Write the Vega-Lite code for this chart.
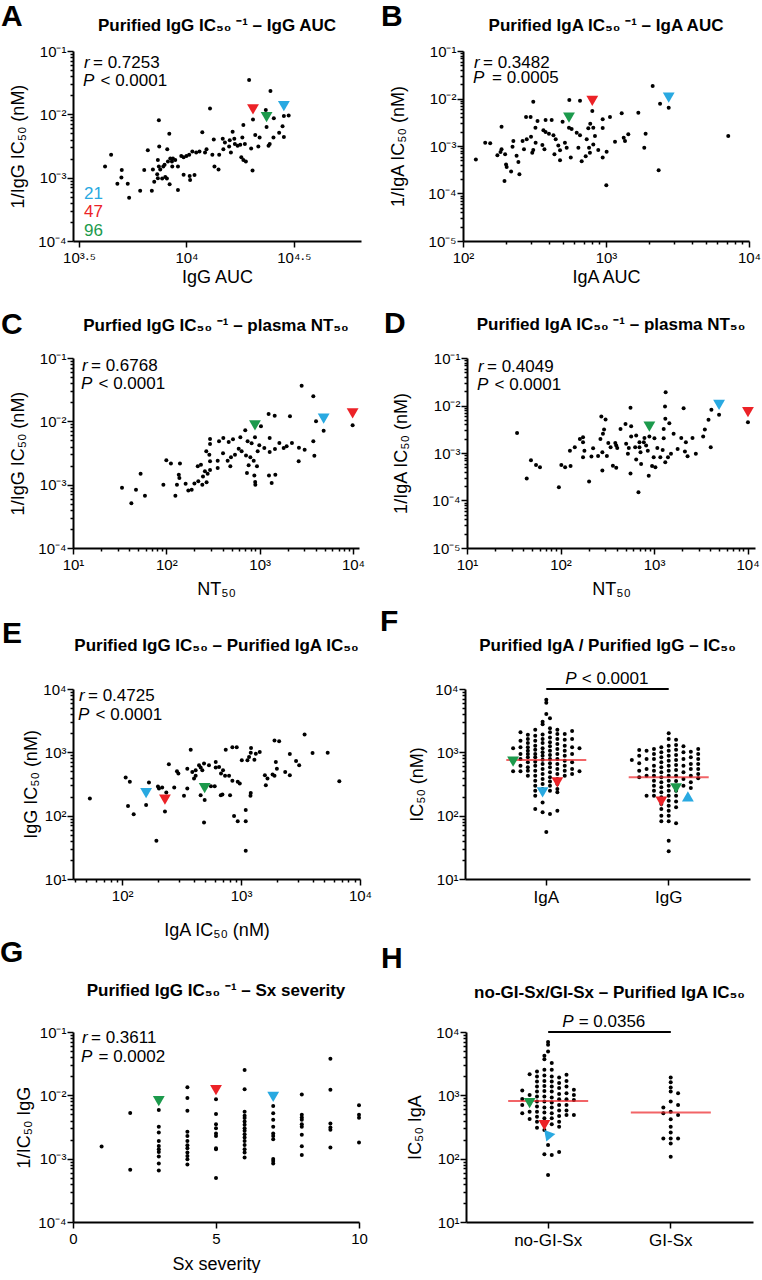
{
"$schema": "https://vega.github.io/schema/vega-lite/v6.json",
"background": "white",
"padding": {"left": 0, "top": 1, "right": 2, "bottom": 0},
"config": {
  "font": "Liberation Sans",
  "view": {"stroke": null},
  "axis": {"domainColor": "#000", "domainWidth": 2, "tickColor": "#000", "tickWidth": 1.5, "labelColor": "#000", "titleColor": "#000", "labelFontSize": 15, "titleFontSize": 18, "titleFontWeight": "normal", "grid": false, "labelOverlap": false, "labelFlush": false, "labelPadding": 3, "tickSize": 6},
  "axisY": {"titlePadding": 14, "labelPadding": 1, "minExtent": 32, "maxExtent": 32},
  "axisX": {"titlePadding": 3},
  "title": {"fontSize": 17, "fontWeight": "bold", "color": "#000"}
},
"datasets": {
  "a": [{"x":19570,"y":0.0348},{"x":24600,"y":0.0234},{"x":12870,"y":0.0124},{"x":23400,"y":0.0117},{"x":7440,"y":0.00804},{"x":20400,"y":0.0083},{"x":28400,"y":0.0094},{"x":25500,"y":0.00865},{"x":29900,"y":0.0096},{"x":23600,"y":0.0063},{"x":18400,"y":0.0068},{"x":28000,"y":0.0065},{"x":11850,"y":0.0052},{"x":8320,"y":0.00495},{"x":16400,"y":0.0053},{"x":20900,"y":0.0047},{"x":27000,"y":0.0051},{"x":21900,"y":0.0043},{"x":18200,"y":0.0043},{"x":25400,"y":0.0043},{"x":28400,"y":0.0044},{"x":7470,"y":0.0031},{"x":8140,"y":0.0028},{"x":6610,"y":0.0027},{"x":14750,"y":0.0041},{"x":13400,"y":0.004},{"x":15100,"y":0.0036},{"x":15900,"y":0.0039},{"x":16700,"y":0.0041},{"x":16800,"y":0.0034},{"x":17300,"y":0.0032},{"x":15800,"y":0.0031},{"x":17800,"y":0.0033},{"x":18700,"y":0.0034},{"x":20000,"y":0.0029},{"x":21600,"y":0.0031},{"x":24100,"y":0.0032},{"x":24400,"y":0.0034},{"x":14850,"y":0.0028},{"x":16100,"y":0.0025},{"x":13200,"y":0.0023},{"x":14200,"y":0.0023},{"x":10650,"y":0.0026},{"x":11100,"y":0.0025},{"x":11500,"y":0.0026},{"x":12200,"y":0.0025},{"x":12400,"y":0.0028},{"x":10300,"y":0.0023},{"x":10000,"y":0.0022},{"x":9460,"y":0.0022},{"x":9700,"y":0.0021},{"x":4460,"y":0.0023},{"x":7360,"y":0.0019},{"x":8410,"y":0.002},{"x":8650,"y":0.002},{"x":8870,"y":0.0019},{"x":8560,"y":0.0018},{"x":8200,"y":0.0018},{"x":7910,"y":0.0016},{"x":7800,"y":0.0015},{"x":7440,"y":0.0015},{"x":8590,"y":0.0015},{"x":9130,"y":0.0015},{"x":4180,"y":0.0015},{"x":6980,"y":0.00135},{"x":7550,"y":0.00135},{"x":13500,"y":0.0015},{"x":14100,"y":0.00134},{"x":18400,"y":0.0019},{"x":18900,"y":0.0018},{"x":18000,"y":0.0021},{"x":20300,"y":0.0013},{"x":10900,"y":0.0011},{"x":10350,"y":0.00106},{"x":9700,"y":0.00111},{"x":10400,"y":0.00092},{"x":6360,"y":0.00132},{"x":7310,"y":0.00113},{"x":7360,"y":0.00098},{"x":7710,"y":0.00097},{"x":8110,"y":0.00097},{"x":7970,"y":0.00102},{"x":5000,"y":0.00132},{"x":4980,"y":0.00101},{"x":8350,"y":0.00079},{"x":9130,"y":0.00064},{"x":6900,"y":0.00062},{"x":7080,"y":0.00086},{"x":6090,"y":0.00062},{"x":5330,"y":0.0008},{"x":4770,"y":0.0008},{"x":5410,"y":0.00048}],
  "b": [{"x":2120,"y":0.0183},{"x":310,"y":0.00858},{"x":554,"y":0.0093},{"x":658,"y":0.009},{"x":2388,"y":0.00778},{"x":2745,"y":0.0064},{"x":802,"y":0.00546},{"x":276,"y":0.00408},{"x":297,"y":0.00408},{"x":1066,"y":0.00408},{"x":1683,"y":0.00504},{"x":1288,"y":0.00488},{"x":948,"y":0.00364},{"x":378,"y":0.00352},{"x":417,"y":0.00352},{"x":776,"y":0.00295},{"x":815,"y":0.00243},{"x":551,"y":0.00243},{"x":575,"y":0.00228},{"x":497,"y":0.00325},{"x":332,"y":0.00336},{"x":186,"y":0.00255},{"x":143,"y":0.00117},{"x":123,"y":0.00052},{"x":321,"y":0.00243},{"x":752,"y":0.00236},{"x":948,"y":0.0024},{"x":1432,"y":0.00176},{"x":1892,"y":0.00182},{"x":1852,"y":0.00092},{"x":7160,"y":0.00163},{"x":2334,"y":0.00031},{"x":1005,"y":0.000149},{"x":195,"y":0.000183},{"x":248,"y":0.000254},{"x":217,"y":0.00029},{"x":155,"y":0.00114},{"x":186,"y":0.00085},{"x":197,"y":0.00067},{"x":200,"y":0.00041},{"x":202,"y":0.00036},{"x":237,"y":0.00062},{"x":244,"y":0.00046},{"x":261,"y":0.00127},{"x":267,"y":0.00085},{"x":279,"y":0.00138},{"x":299,"y":0.00157},{"x":305,"y":0.00072},{"x":310,"y":0.00082},{"x":359,"y":0.00105},{"x":371,"y":0.00085},{"x":399,"y":0.00182},{"x":429,"y":0.00168},{"x":445,"y":0.00138},{"x":378,"y":0.00197},{"x":365,"y":0.00214},{"x":464,"y":0.00103},{"x":436,"y":0.00067},{"x":477,"y":0.00081},{"x":477,"y":0.0005},{"x":516,"y":0.00117},{"x":531,"y":0.00092},{"x":567,"y":0.00057},{"x":624,"y":0.00191},{"x":658,"y":0.00168},{"x":641,"y":0.00092},{"x":676,"y":0.00048},{"x":721,"y":0.00061},{"x":733,"y":0.00138},{"x":761,"y":0.00092},{"x":772,"y":0.00072},{"x":815,"y":0.00108},{"x":837,"y":0.00163},{"x":883,"y":0.00082},{"x":948,"y":0.00057},{"x":1010,"y":0.00076},{"x":1156,"y":0.00123},{"x":1358,"y":0.00127},{"x":1330,"y":0.0015},{"x":174,"y":0.00064},{"x":183,"y":0.00075},{"x":222,"y":0.00097},{"x":225,"y":0.00127},{"x":322,"y":0.00117}],
  "c": [{"x":2818,"y":0.0366},{"x":3758,"y":0.0248},{"x":1247,"y":0.0131},{"x":1449,"y":0.0123},{"x":2113,"y":0.012},{"x":4018,"y":0.01},{"x":1033,"y":0.00834},{"x":701,"y":0.00721},{"x":4850,"y":0.00712},{"x":9910,"y":0.00865},{"x":891,"y":0.00559},{"x":294,"y":0.00526},{"x":367,"y":0.00483},{"x":408,"y":0.00546},{"x":518,"y":0.0052},{"x":621,"y":0.00559},{"x":1280,"y":0.00546},{"x":820,"y":0.0045},{"x":991,"y":0.00418},{"x":743,"y":0.00483},{"x":466,"y":0.00472},{"x":294,"y":0.00438},{"x":1626,"y":0.00455},{"x":1808,"y":0.0038},{"x":2218,"y":0.00455},{"x":1945,"y":0.00403},{"x":1459,"y":0.00366},{"x":1122,"y":0.0038},{"x":952,"y":0.00336},{"x":1280,"y":0.00328},{"x":2636,"y":0.00384},{"x":3034,"y":0.00357},{"x":3758,"y":0.00483},{"x":3855,"y":0.00287},{"x":2618,"y":0.00234},{"x":596,"y":0.0037},{"x":641,"y":0.00336},{"x":714,"y":0.0029},{"x":795,"y":0.0027},{"x":544,"y":0.00298},{"x":454,"y":0.00239},{"x":493,"y":0.0027},{"x":355,"y":0.00239},{"x":405,"y":0.00313},{"x":268,"y":0.00336},{"x":485,"y":0.00195},{"x":355,"y":0.00183},{"x":762,"y":0.00202},{"x":863,"y":0.00239},{"x":936,"y":0.00195},{"x":731,"y":0.00153},{"x":877,"y":0.0014},{"x":899,"y":0.001},{"x":895,"y":0.0011},{"x":1259,"y":0.0014},{"x":1472,"y":0.00144},{"x":1345,"y":0.00106},{"x":217,"y":0.00195},{"x":259,"y":0.00163},{"x":294,"y":0.00171},{"x":277,"y":0.00149},{"x":247,"y":0.00135},{"x":270,"y":0.00109},{"x":243,"y":0.001},{"x":200,"y":0.00104},{"x":187,"y":0.00083},{"x":172,"y":0.00081},{"x":161,"y":0.00103},{"x":294,"y":0.00234},{"x":289,"y":0.00298},{"x":235,"y":0.00207},{"x":220,"y":0.00113},{"x":136,"y":0.00144},{"x":138,"y":0.00127},{"x":112,"y":0.00215},{"x":140,"y":0.00215},{"x":100,"y":0.00242},{"x":125,"y":0.00067},{"x":130,"y":0.001},{"x":93,"y":0.001},{"x":53,"y":0.00149},{"x":33.5,"y":0.00089},{"x":47.3,"y":0.00083},{"x":59,"y":0.00067},{"x":42.2,"y":0.00051}],
  "d": [{"x":1330,"y":0.0191},{"x":560,"y":0.00893},{"x":1309,"y":0.00953},{"x":2070,"y":0.00879},{"x":4102,"y":0.00811},{"x":4955,"y":0.00636},{"x":10090,"y":0.00446},{"x":3819,"y":0.00499},{"x":1320,"y":0.00524},{"x":891,"y":0.00222},{"x":273,"y":0.00586},{"x":303,"y":0.00507},{"x":495,"y":0.0041},{"x":1456,"y":0.00425},{"x":1268,"y":0.00322},{"x":569,"y":0.00366},{"x":438,"y":0.00322},{"x":284,"y":0.00253},{"x":292,"y":0.00312},{"x":3490,"y":0.00312},{"x":569,"y":0.00222},{"x":644,"y":0.00233},{"x":789,"y":0.00208},{"x":777,"y":0.00169},{"x":1009,"y":0.00205},{"x":1268,"y":0.00205},{"x":1618,"y":0.00253},{"x":1954,"y":0.00208},{"x":2188,"y":0.00169},{"x":2576,"y":0.00208},{"x":3350,"y":0.00222},{"x":174,"y":0.00215},{"x":174,"y":0.00169},{"x":267,"y":0.00198},{"x":324,"y":0.00163},{"x":385,"y":0.00163},{"x":503,"y":0.00156},{"x":537,"y":0.00128},{"x":628,"y":0.00132},{"x":698,"y":0.00169},{"x":698,"y":0.00132},{"x":822,"y":0.00144},{"x":857,"y":0.00112},{"x":1084,"y":0.00128},{"x":1236,"y":0.00116},{"x":1167,"y":0.00081},{"x":1409,"y":0.00081},{"x":1517,"y":0.00096},{"x":1786,"y":0.00122},{"x":2138,"y":0.00107},{"x":2281,"y":0.00085},{"x":2797,"y":0.00096},{"x":4036,"y":0.00132},{"x":142,"y":0.00132},{"x":126,"y":0.00112},{"x":180,"y":0.00112},{"x":223,"y":0.00126},{"x":394,"y":0.00144},{"x":404,"y":0.00128},{"x":525,"y":0.00096},{"x":644,"y":0.00073},{"x":174,"y":0.00081},{"x":214,"y":0.00084},{"x":252,"y":0.00086},{"x":313,"y":0.00086},{"x":343,"y":0.00132},{"x":48.3,"y":0.0007},{"x":54.7,"y":0.00056},{"x":60.3,"y":0.0005},{"x":102,"y":0.00056},{"x":112,"y":0.0005},{"x":128,"y":0.00053},{"x":43.5,"y":0.00029},{"x":34.3,"y":0.00265},{"x":202,"y":0.00025},{"x":96,"y":0.00019},{"x":280,"y":0.00043},{"x":560,"y":0.00037},{"x":877,"y":0.00033},{"x":952,"y":0.00053},{"x":1318,"y":0.00064},{"x":681,"y":0.00015},{"x":727,"y":0.00059},{"x":1033,"y":0.0005},{"x":394,"y":0.00049},{"x":716,"y":0.00104},{"x":991,"y":0.00081},{"x":280,"y":0.00104},{"x":363,"y":0.00054},{"x":161,"y":0.00198}],
  "e": [{"x":3420,"y":1920},{"x":1910,"y":1540},{"x":2090,"y":1490},{"x":5350,"y":988},{"x":3990,"y":977},{"x":2900,"y":731},{"x":2570,"y":942},{"x":377,"y":1100},{"x":743,"y":1100},{"x":845,"y":1200},{"x":919,"y":1200},{"x":1213,"y":1170},{"x":1435,"y":1012},{"x":1330,"y":953},{"x":1206,"y":988},{"x":1167,"y":845},{"x":1014,"y":748},{"x":1131,"y":748},{"x":1294,"y":767},{"x":612,"y":705},{"x":488,"y":664},{"x":443,"y":625},{"x":415,"y":521},{"x":389,"y":491},{"x":353,"y":553},{"x":457,"y":574},{"x":537,"y":625},{"x":247,"y":649},{"x":289,"y":504},{"x":297,"y":463},{"x":612,"y":574},{"x":705,"y":521},{"x":733,"y":425},{"x":845,"y":355},{"x":937,"y":342},{"x":1960,"y":705},{"x":2000,"y":553},{"x":1840,"y":446},{"x":1910,"y":425},{"x":2350,"y":491},{"x":2570,"y":435},{"x":3080,"y":625},{"x":6700,"y":351},{"x":107,"y":400},{"x":116,"y":342},{"x":200,"y":289},{"x":217,"y":279},{"x":235,"y":232},{"x":274,"y":279},{"x":229,"y":116},{"x":331,"y":206},{"x":353,"y":268},{"x":402,"y":385},{"x":415,"y":425},{"x":472,"y":521},{"x":558,"y":292},{"x":600,"y":292},{"x":675,"y":211},{"x":697,"y":216},{"x":808,"y":211},{"x":678,"y":463},{"x":792,"y":425},{"x":975,"y":322},{"x":1206,"y":227},{"x":1199,"y":206},{"x":1615,"y":303},{"x":1585,"y":435},{"x":1094,"y":123},{"x":873,"y":99},{"x":937,"y":82},{"x":1094,"y":82},{"x":1094,"y":28},{"x":488,"y":78},{"x":194,"y":40},{"x":159,"y":147},{"x":494,"y":176},{"x":112,"y":142},{"x":125,"y":105},{"x":53.5,"y":187},{"x":168,"y":334},{"x":204,"y":268},{"x":457,"y":211},{"x":653,"y":589},{"x":1667,"y":385}],
  "g": [{"x":1,"y":0.00155},{"x":2,"y":0.00525},{"x":2,"y":0.00067},{"x":3,"y":0.00585},{"x":3,"y":0.00318},{"x":3,"y":0.00259},{"x":3,"y":0.0019},{"x":3,"y":0.00159},{"x":3,"y":0.00141},{"x":3,"y":0.00128},{"x":3,"y":0.00108},{"x":3,"y":0.00084},{"x":3,"y":0.00065},{"x":4,"y":0.0134},{"x":4,"y":0.0091},{"x":4,"y":0.0057},{"x":4,"y":0.00265},{"x":4,"y":0.00229},{"x":4,"y":0.0019},{"x":4,"y":0.00163},{"x":4,"y":0.00146},{"x":4,"y":0.00125},{"x":4,"y":0.0011},{"x":4,"y":0.000975},{"x":4,"y":0.00081},{"x":5,"y":0.0087},{"x":5,"y":0.00506},{"x":5,"y":0.0035},{"x":5,"y":0.00303},{"x":5,"y":0.00249},{"x":5,"y":0.00229},{"x":5,"y":0.00146},{"x":5,"y":0.00141},{"x":5,"y":0.000493},{"x":6,"y":0.0252},{"x":6,"y":0.01245},{"x":6,"y":0.0055},{"x":6,"y":0.00475},{"x":6,"y":0.00437},{"x":6,"y":0.00386},{"x":6,"y":0.00342},{"x":6,"y":0.00303},{"x":6,"y":0.00275},{"x":6,"y":0.00243},{"x":6,"y":0.00215},{"x":6,"y":0.0019},{"x":6,"y":0.00165},{"x":6,"y":0.00141},{"x":6,"y":0.00125},{"x":6,"y":0.00104},{"x":7,"y":0.0068},{"x":7,"y":0.0052},{"x":7,"y":0.0041},{"x":7,"y":0.00318},{"x":7,"y":0.00249},{"x":7,"y":0.00229},{"x":7,"y":0.00203},{"x":7,"y":0.00099},{"x":7,"y":0.00092},{"x":7,"y":0.00084},{"x":8,"y":0.0103},{"x":8,"y":0.00493},{"x":8,"y":0.00448},{"x":8,"y":0.0041},{"x":8,"y":0.0035},{"x":8,"y":0.00318},{"x":8,"y":0.00238},{"x":8,"y":0.00157},{"x":8,"y":0.00114},{"x":9,"y":0.0378},{"x":9,"y":0.0123},{"x":9,"y":0.0036},{"x":9,"y":0.0031},{"x":9,"y":0.00285},{"x":9,"y":0.0015},{"x":10,"y":0.007},{"x":10,"y":0.00493},{"x":10,"y":0.00443},{"x":10,"y":0.0018}],
  "f": [{"g":"IgA","c":-4.5,"v":1157},{"g":"IgA","c":-4.5,"v":501},{"g":"IgA","c":-3.5,"v":2070},{"g":"IgA","c":-3.5,"v":1530},{"g":"IgA","c":-3.5,"v":1200},{"g":"IgA","c":-3.5,"v":942},{"g":"IgA","c":-3.5,"v":785},{"g":"IgA","c":-3.5,"v":615},{"g":"IgA","c":-3.5,"v":501},{"g":"IgA","c":-2.5,"v":1900},{"g":"IgA","c":-2.5,"v":1620},{"g":"IgA","c":-2.5,"v":1400},{"g":"IgA","c":-2.5,"v":1200},{"g":"IgA","c":-2.5,"v":1062},{"g":"IgA","c":-2.5,"v":942},{"g":"IgA","c":-2.5,"v":834},{"g":"IgA","c":-2.5,"v":695},{"g":"IgA","c":-2.5,"v":580},{"g":"IgA","c":-2.5,"v":514},{"g":"IgA","c":-2.5,"v":428},{"g":"IgA","c":-1.5,"v":2280},{"g":"IgA","c":-1.5,"v":1830},{"g":"IgA","c":-1.5,"v":1530},{"g":"IgA","c":-1.5,"v":1275},{"g":"IgA","c":-1.5,"v":1100},{"g":"IgA","c":-1.5,"v":942},{"g":"IgA","c":-1.5,"v":834},{"g":"IgA","c":-1.5,"v":712},{"g":"IgA","c":-1.5,"v":615},{"g":"IgA","c":-1.5,"v":514},{"g":"IgA","c":-1.5,"v":428},{"g":"IgA","c":-1.5,"v":357},{"g":"IgA","c":-1.5,"v":298},{"g":"IgA","c":-1.5,"v":248},{"g":"IgA","c":-1.5,"v":207},{"g":"IgA","c":-1.5,"v":127},{"g":"IgA","c":-0.5,"v":3050},{"g":"IgA","c":-0.5,"v":2770},{"g":"IgA","c":-0.5,"v":1920},{"g":"IgA","c":-0.5,"v":1620},{"g":"IgA","c":-0.5,"v":1400},{"g":"IgA","c":-0.5,"v":1157},{"g":"IgA","c":-0.5,"v":1000},{"g":"IgA","c":-0.5,"v":885},{"g":"IgA","c":-0.5,"v":766},{"g":"IgA","c":-0.5,"v":655},{"g":"IgA","c":-0.5,"v":546},{"g":"IgA","c":-0.5,"v":455},{"g":"IgA","c":-0.5,"v":379},{"g":"IgA","c":-0.5,"v":316},{"g":"IgA","c":-0.5,"v":264},{"g":"IgA","c":-0.5,"v":162},{"g":"IgA","c":-0.5,"v":113},{"g":"IgA","c":0,"v":6790},{"g":"IgA","c":0,"v":6080},{"g":"IgA","c":0,"v":4030},{"g":"IgA","c":0,"v":55},{"g":"IgA","c":0.5,"v":3440},{"g":"IgA","c":0.5,"v":2390},{"g":"IgA","c":0.5,"v":2070},{"g":"IgA","c":0.5,"v":1720},{"g":"IgA","c":0.5,"v":1440},{"g":"IgA","c":0.5,"v":1245},{"g":"IgA","c":0.5,"v":1062},{"g":"IgA","c":0.5,"v":908},{"g":"IgA","c":0.5,"v":785},{"g":"IgA","c":0.5,"v":670},{"g":"IgA","c":0.5,"v":580},{"g":"IgA","c":0.5,"v":483},{"g":"IgA","c":0.5,"v":403},{"g":"IgA","c":0.5,"v":345},{"g":"IgA","c":0.5,"v":298},{"g":"IgA","c":0.5,"v":248},{"g":"IgA","c":0.5,"v":106},{"g":"IgA","c":1.5,"v":2280},{"g":"IgA","c":1.5,"v":1950},{"g":"IgA","c":1.5,"v":1620},{"g":"IgA","c":1.5,"v":1355},{"g":"IgA","c":1.5,"v":1130},{"g":"IgA","c":1.5,"v":942},{"g":"IgA","c":1.5,"v":785},{"g":"IgA","c":1.5,"v":655},{"g":"IgA","c":1.5,"v":546},{"g":"IgA","c":1.5,"v":455},{"g":"IgA","c":1.5,"v":379},{"g":"IgA","c":1.5,"v":316},{"g":"IgA","c":1.5,"v":264},{"g":"IgA","c":1.5,"v":234},{"g":"IgA","c":1.5,"v":120},{"g":"IgA","c":2.5,"v":1950},{"g":"IgA","c":2.5,"v":1585},{"g":"IgA","c":2.5,"v":1275},{"g":"IgA","c":2.5,"v":1062},{"g":"IgA","c":2.5,"v":885},{"g":"IgA","c":2.5,"v":738},{"g":"IgA","c":2.5,"v":615},{"g":"IgA","c":2.5,"v":514},{"g":"IgA","c":2.5,"v":428},{"g":"IgA","c":3.5,"v":2170},{"g":"IgA","c":3.5,"v":1620},{"g":"IgA","c":3.5,"v":1200},{"g":"IgA","c":3.5,"v":942},{"g":"IgA","c":3.5,"v":695},{"g":"IgA","c":3.5,"v":546},{"g":"IgA","c":3.5,"v":455},{"g":"IgA","c":4.5,"v":1157},{"g":"IgA","c":4.5,"v":501},
    {"g":"IgG","c":-5,"v":757},{"g":"IgG","c":-4,"v":1088},{"g":"IgG","c":-4,"v":885},{"g":"IgG","c":-4,"v":670},{"g":"IgG","c":-4,"v":514},{"g":"IgG","c":-4,"v":403},{"g":"IgG","c":-3,"v":1062},{"g":"IgG","c":-3,"v":785},{"g":"IgG","c":-3,"v":546},{"g":"IgG","c":-3,"v":428},{"g":"IgG","c":-3,"v":207},{"g":"IgG","c":-2,"v":1130},{"g":"IgG","c":-2,"v":942},{"g":"IgG","c":-2,"v":785},{"g":"IgG","c":-2,"v":615},{"g":"IgG","c":-2,"v":514},{"g":"IgG","c":-2,"v":428},{"g":"IgG","c":-2,"v":357},{"g":"IgG","c":-2,"v":298},{"g":"IgG","c":-2,"v":248},{"g":"IgG","c":-2,"v":207},{"g":"IgG","c":-1,"v":1200},{"g":"IgG","c":-1,"v":1000},{"g":"IgG","c":-1,"v":834},{"g":"IgG","c":-1,"v":695},{"g":"IgG","c":-1,"v":580},{"g":"IgG","c":-1,"v":483},{"g":"IgG","c":-1,"v":403},{"g":"IgG","c":-1,"v":336},{"g":"IgG","c":-1,"v":280},{"g":"IgG","c":-1,"v":234},{"g":"IgG","c":-1,"v":195},{"g":"IgG","c":-1,"v":153},{"g":"IgG","c":-1,"v":127},{"g":"IgG","c":-1,"v":100},{"g":"IgG","c":-1,"v":81.5},{"g":"IgG","c":0,"v":1995},{"g":"IgG","c":0,"v":1620},{"g":"IgG","c":0,"v":1275},{"g":"IgG","c":0,"v":1062},{"g":"IgG","c":0,"v":885},{"g":"IgG","c":0,"v":738},{"g":"IgG","c":0,"v":615},{"g":"IgG","c":0,"v":514},{"g":"IgG","c":0,"v":428},{"g":"IgG","c":0,"v":357},{"g":"IgG","c":0,"v":298},{"g":"IgG","c":0,"v":248},{"g":"IgG","c":0,"v":207},{"g":"IgG","c":0,"v":172},{"g":"IgG","c":0,"v":144},{"g":"IgG","c":0,"v":120},{"g":"IgG","c":0,"v":100},{"g":"IgG","c":0,"v":81.5},{"g":"IgG","c":0,"v":40.3},{"g":"IgG","c":0,"v":27.4},{"g":"IgG","c":1,"v":1585},{"g":"IgG","c":1,"v":1306},{"g":"IgG","c":1,"v":1100},{"g":"IgG","c":1,"v":908},{"g":"IgG","c":1,"v":757},{"g":"IgG","c":1,"v":631},{"g":"IgG","c":1,"v":526},{"g":"IgG","c":1,"v":428},{"g":"IgG","c":1,"v":352},{"g":"IgG","c":1,"v":298},{"g":"IgG","c":1,"v":248},{"g":"IgG","c":1,"v":207},{"g":"IgG","c":1,"v":168},{"g":"IgG","c":1,"v":136},{"g":"IgG","c":1,"v":75.7},{"g":"IgG","c":2,"v":1245},{"g":"IgG","c":2,"v":1000},{"g":"IgG","c":2,"v":785},{"g":"IgG","c":2,"v":615},{"g":"IgG","c":2,"v":483},{"g":"IgG","c":2,"v":379},{"g":"IgG","c":2,"v":298},{"g":"IgG","c":3,"v":1025},{"g":"IgG","c":3,"v":834},{"g":"IgG","c":3,"v":655},{"g":"IgG","c":3,"v":546},{"g":"IgG","c":3,"v":428},{"g":"IgG","c":3,"v":336},{"g":"IgG","c":3,"v":273},{"g":"IgG","c":4,"v":1130},{"g":"IgG","c":4,"v":942},{"g":"IgG","c":4,"v":785},{"g":"IgG","c":4,"v":655},{"g":"IgG","c":4,"v":546},{"g":"IgG","c":4,"v":455},{"g":"IgG","c":4,"v":388}],
  "h": [{"g":"no-GI-Sx","c":-3.5,"v":1190},{"g":"no-GI-Sx","c":-3.5,"v":878},{"g":"no-GI-Sx","c":-3.5,"v":705},{"g":"no-GI-Sx","c":-3.5,"v":520},{"g":"no-GI-Sx","c":-2.5,"v":2160},{"g":"no-GI-Sx","c":-2.5,"v":1016},{"g":"no-GI-Sx","c":-2.5,"v":750},{"g":"no-GI-Sx","c":-2.5,"v":553},{"g":"no-GI-Sx","c":-2.5,"v":424},{"g":"no-GI-Sx","c":-1.5,"v":2380},{"g":"no-GI-Sx","c":-1.5,"v":1980},{"g":"no-GI-Sx","c":-1.5,"v":1650},{"g":"no-GI-Sx","c":-1.5,"v":1380},{"g":"no-GI-Sx","c":-1.5,"v":1150},{"g":"no-GI-Sx","c":-1.5,"v":955},{"g":"no-GI-Sx","c":-1.5,"v":796},{"g":"no-GI-Sx","c":-1.5,"v":664},{"g":"no-GI-Sx","c":-1.5,"v":553},{"g":"no-GI-Sx","c":-1.5,"v":460},{"g":"no-GI-Sx","c":-1.5,"v":384},{"g":"no-GI-Sx","c":-1.5,"v":308},{"g":"no-GI-Sx","c":-0.5,"v":4220},{"g":"no-GI-Sx","c":-0.5,"v":3730},{"g":"no-GI-Sx","c":-0.5,"v":2530},{"g":"no-GI-Sx","c":-0.5,"v":2060},{"g":"no-GI-Sx","c":-0.5,"v":1690},{"g":"no-GI-Sx","c":-0.5,"v":1410},{"g":"no-GI-Sx","c":-0.5,"v":1175},{"g":"no-GI-Sx","c":-0.5,"v":955},{"g":"no-GI-Sx","c":-0.5,"v":796},{"g":"no-GI-Sx","c":-0.5,"v":640},{"g":"no-GI-Sx","c":-0.5,"v":534},{"g":"no-GI-Sx","c":-0.5,"v":434},{"g":"no-GI-Sx","c":-0.5,"v":352},{"g":"no-GI-Sx","c":-0.5,"v":283},{"g":"no-GI-Sx","c":-0.5,"v":117},{"g":"no-GI-Sx","c":0,"v":6950},{"g":"no-GI-Sx","c":0,"v":6300},{"g":"no-GI-Sx","c":0,"v":4940},{"g":"no-GI-Sx","c":0,"v":164},{"g":"no-GI-Sx","c":0,"v":55},{"g":"no-GI-Sx","c":0.5,"v":3230},{"g":"no-GI-Sx","c":0.5,"v":2530},{"g":"no-GI-Sx","c":0.5,"v":1980},{"g":"no-GI-Sx","c":0.5,"v":1650},{"g":"no-GI-Sx","c":0.5,"v":1380},{"g":"no-GI-Sx","c":0.5,"v":1150},{"g":"no-GI-Sx","c":0.5,"v":922},{"g":"no-GI-Sx","c":0.5,"v":768},{"g":"no-GI-Sx","c":0.5,"v":640},{"g":"no-GI-Sx","c":0.5,"v":520},{"g":"no-GI-Sx","c":0.5,"v":434},{"g":"no-GI-Sx","c":0.5,"v":348},{"g":"no-GI-Sx","c":0.5,"v":114},{"g":"no-GI-Sx","c":1.5,"v":1910},{"g":"no-GI-Sx","c":1.5,"v":1560},{"g":"no-GI-Sx","c":1.5,"v":1300},{"g":"no-GI-Sx","c":1.5,"v":1050},{"g":"no-GI-Sx","c":1.5,"v":867},{"g":"no-GI-Sx","c":1.5,"v":705},{"g":"no-GI-Sx","c":1.5,"v":574},{"g":"no-GI-Sx","c":1.5,"v":472},{"g":"no-GI-Sx","c":1.5,"v":384},{"g":"no-GI-Sx","c":1.5,"v":320},{"g":"no-GI-Sx","c":1.5,"v":128},{"g":"no-GI-Sx","c":2.5,"v":2110},{"g":"no-GI-Sx","c":2.5,"v":1690},{"g":"no-GI-Sx","c":2.5,"v":1380},{"g":"no-GI-Sx","c":2.5,"v":1080},{"g":"no-GI-Sx","c":2.5,"v":867},{"g":"no-GI-Sx","c":2.5,"v":705},{"g":"no-GI-Sx","c":2.5,"v":574},{"g":"no-GI-Sx","c":2.5,"v":490},{"g":"no-GI-Sx","c":3.5,"v":1220},{"g":"no-GI-Sx","c":3.5,"v":1016},{"g":"no-GI-Sx","c":3.5,"v":847},{"g":"no-GI-Sx","c":3.5,"v":490},
    {"g":"GI-Sx","c":0,"v":1910},{"g":"GI-Sx","c":0,"v":1610},{"g":"GI-Sx","c":0,"v":1330},{"g":"GI-Sx","c":0,"v":1150},{"g":"GI-Sx","c":0,"v":796},{"g":"GI-Sx","c":0,"v":553},{"g":"GI-Sx","c":0,"v":418},{"g":"GI-Sx","c":0,"v":320},{"g":"GI-Sx","c":0,"v":260},{"g":"GI-Sx","c":0,"v":209},{"g":"GI-Sx","c":0,"v":174},{"g":"GI-Sx","c":0,"v":107},{"g":"GI-Sx","c":-1,"v":640},{"g":"GI-Sx","c":-1,"v":520},{"g":"GI-Sx","c":-1,"v":209},{"g":"GI-Sx","c":1,"v":1080},{"g":"GI-Sx","c":1,"v":705},{"g":"GI-Sx","c":1,"v":490},{"g":"GI-Sx","c":1,"v":209}],
  "tri": [{"p":"A","id":"47","x":20400,"y":0.0083},{"p":"A","id":"96","x":23600,"y":0.0063},{"p":"A","id":"21","x":28400,"y":0.0094},{"p":"B","id":"47","x":802,"y":0.00546},{"p":"B","id":"96","x":551,"y":0.00243},{"p":"B","id":"21","x":2745,"y":0.0064},{"p":"C","id":"47","x":9910,"y":0.00865},{"p":"C","id":"96","x":891,"y":0.00559},{"p":"C","id":"21","x":4850,"y":0.00712},{"p":"D","id":"47","x":10090,"y":0.00446},{"p":"D","id":"96","x":891,"y":0.00222},{"p":"D","id":"21","x":4955,"y":0.00636},{"p":"E","id":"47","x":229,"y":116},{"p":"E","id":"96","x":494,"y":176},{"p":"E","id":"21","x":159,"y":147},{"p":"G","id":"47","x":5,"y":0.0087},{"p":"G","id":"96","x":3,"y":0.00585},{"p":"G","id":"21","x":7,"y":0.0068}],
  "trisw": [{"p":"F","id":"96","g":"IgA","v":712,"c":-4.5},{"p":"F","id":"21","g":"IgA","v":234,"c":-0.5},{"p":"F","id":"47","g":"IgA","v":336,"c":1.5},{"p":"F","id":"47","g":"IgG","v":166,"c":-1},{"p":"F","id":"96","g":"IgG","v":270,"c":1},{"p":"F","id":"21","g":"IgG","v":183,"c":2.4},{"p":"H","id":"96","g":"no-GI-Sx","v":750,"c":-2.5},{"p":"H","id":"47","g":"no-GI-Sx","v":340,"c":-0.5},{"p":"H","id":"21","g":"no-GI-Sx","v":222,"c":0}],
  "med": [{"p":"F","g":"IgA","v":757},{"p":"F","g":"IgG","v":403},{"p":"H","g":"no-GI-Sx","v":817},{"p":"H","g":"GI-Sx","v":534}]
},
"spacing": 23,
"vconcat": [
 {"spacing": 20, "hconcat": [
  {"title": {"text": "A", "anchor": "start", "frame": "bounds", "fontSize": 30, "fontWeight": "bold", "offset": -15, "dx": -8},
   "vconcat": [{
    "width": 288, "height": 190,
    "title": {"text": "Purified IgG IC₅₀ ⁻¹ – IgG AUC", "offset": 9.5},
    "layer": [
     {"data": {"name": "a"}, "mark": {"type": "circle", "size": 16, "color": "#000", "opacity": 1},
      "encoding": {
       "x": {"field": "x", "type": "quantitative", "scale": {"type": "log", "domain": [2965, 64900], "nice": false}, "axis": {"title": "IgG AUC", "values": [3162.28, 10000, 31622.78], "labelExpr": "datum.value < 5000 ? '10³·⁵' : datum.value < 20000 ? '10⁴' : '10⁴·⁵'"}},
       "y": {"field": "y", "type": "quantitative", "scale": {"type": "log", "domain": [0.0001, 0.1], "nice": false}, "axis": {"title": "1/IgG IC₅₀ (nM)", "titlePadding": 14, "values": [0.0001,0.0002,0.0003,0.0004,0.0005,0.0006,0.0007,0.0008,0.0009,0.001,0.002,0.003,0.004,0.005,0.006,0.007,0.008,0.009,0.01,0.02,0.03,0.04,0.05,0.06,0.07,0.08,0.09,0.1], "labelExpr": "abs(log(datum.value)/LN10-round(log(datum.value)/LN10))<0.01 ? '10'+(datum.value<1?'⁻':'')+['⁰','¹','²','³','⁴','⁵','⁶','⁷','⁸','⁹'][abs(round(log(datum.value)/LN10))] : ''", "tickSize": {"condition": {"test": "abs(log(datum.value)/LN10-round(log(datum.value)/LN10))<0.01", "value": 6}, "value": 3}}}
      }},
     {"data": {"name": "tri"}, "transform": [{"filter": "datum.p == 'A'"}], "mark": {"type": "point", "shape": "triangle-down", "filled": true, "size": 140, "opacity": 1, "yOffset": -10},
      "encoding": {"x": {"field": "x", "type": "quantitative"}, "y": {"field": "y", "type": "quantitative"}, "color": {"field": "id", "type": "nominal", "scale": {"domain": ["21","47","96"], "range": ["#29A9E1","#EC2227","#1C9A4C"]}, "legend": null}}},
     {"data": {"values": [{}]}, "mark": {"type": "text", "text": "r", "fontStyle": "italic", "fontSize": 17, "align": "left", "baseline": "middle", "dx": 11}, "encoding": {"x": {"datum": 2965}, "y": {"datum": 0.065}}},
     {"data": {"values": [{}]}, "mark": {"type": "text", "text": "= 0.7253", "fontSize": 17, "align": "left", "baseline": "middle", "dx": 20}, "encoding": {"x": {"datum": 2965}, "y": {"datum": 0.065}}},
     {"data": {"values": [{}]}, "mark": {"type": "text", "text": "P", "fontStyle": "italic", "fontSize": 17, "align": "left", "baseline": "middle", "dx": 10}, "encoding": {"x": {"datum": 2965}, "y": {"datum": 0.0336}}},
     {"data": {"values": [{}]}, "mark": {"type": "text", "text": "< 0.0001", "fontSize": 17, "align": "left", "baseline": "middle", "dx": 27.5}, "encoding": {"x": {"datum": 2965}, "y": {"datum": 0.0336}}},
     {"data": {"values": [{}]}, "mark": {"type": "text", "text": "21", "fontSize": 17, "color": "#29A9E1", "align": "left", "baseline": "middle", "dx": 11}, "encoding": {"x": {"datum": 2965}, "y": {"datum": 0.00055}}},
     {"data": {"values": [{}]}, "mark": {"type": "text", "text": "47", "fontSize": 17, "color": "#EC2227", "align": "left", "baseline": "middle", "dx": 11}, "encoding": {"x": {"datum": 2965}, "y": {"datum": 0.000286}}},
     {"data": {"values": [{}]}, "mark": {"type": "text", "text": "96", "fontSize": 17, "color": "#1C9A4C", "align": "left", "baseline": "middle", "dx": 11}, "encoding": {"x": {"datum": 2965}, "y": {"datum": 0.000144}}}
    ]
   }]
  },
  {"title": {"text": "B", "anchor": "start", "frame": "bounds", "fontSize": 30, "fontWeight": "bold", "offset": -15, "dx": -8},
   "vconcat": [{
    "width": 286, "height": 190,
    "title": {"text": "Purified IgA IC₅₀ ⁻¹ – IgA AUC", "offset": 9.5},
    "layer": [
     {"data": {"name": "b"}, "mark": {"type": "circle", "size": 16, "color": "#000", "opacity": 1},
      "encoding": {
       "x": {"field": "x", "type": "quantitative", "scale": {"type": "log", "domain": [100, 10000], "nice": false}, "axis": {"title": "IgA AUC", "values": [100,200,300,400,500,600,700,800,900,1000,2000,3000,4000,5000,6000,7000,8000,9000,10000], "labelExpr": "abs(log(datum.value)/LN10-round(log(datum.value)/LN10))<0.01 ? '10'+(datum.value<1?'⁻':'')+['⁰','¹','²','³','⁴','⁵','⁶','⁷','⁸','⁹'][abs(round(log(datum.value)/LN10))] : ''", "tickSize": {"condition": {"test": "abs(log(datum.value)/LN10-round(log(datum.value)/LN10))<0.01", "value": 6}, "value": 3}}},
       "y": {"field": "y", "type": "quantitative", "scale": {"type": "log", "domain": [0.00001, 0.1], "nice": false}, "axis": {"title": "1/IgA IC₅₀ (nM)", "titlePadding": 24, "values": [0.00001,0.00002,0.00003,0.00004,0.00005,0.00006,0.00007,0.00008,0.00009,0.0001,0.0002,0.0003,0.0004,0.0005,0.0006,0.0007,0.0008,0.0009,0.001,0.002,0.003,0.004,0.005,0.006,0.007,0.008,0.009,0.01,0.02,0.03,0.04,0.05,0.06,0.07,0.08,0.09,0.1], "labelExpr": "abs(log(datum.value)/LN10-round(log(datum.value)/LN10))<0.01 ? '10'+(datum.value<1?'⁻':'')+['⁰','¹','²','³','⁴','⁵','⁶','⁷','⁸','⁹'][abs(round(log(datum.value)/LN10))] : ''", "tickSize": {"condition": {"test": "abs(log(datum.value)/LN10-round(log(datum.value)/LN10))<0.01", "value": 6}, "value": 3}}}
      }},
     {"data": {"name": "tri"}, "transform": [{"filter": "datum.p == 'B'"}], "mark": {"type": "point", "shape": "triangle-down", "filled": true, "size": 140, "opacity": 1, "yOffset": -10},
      "encoding": {"x": {"field": "x", "type": "quantitative"}, "y": {"field": "y", "type": "quantitative"}, "color": {"field": "id", "type": "nominal", "scale": {"domain": ["21","47","96"], "range": ["#29A9E1","#EC2227","#1C9A4C"]}, "legend": null}}},
     {"data": {"values": [{}]}, "mark": {"type": "text", "text": "r", "fontStyle": "italic", "fontSize": 17, "align": "left", "baseline": "middle", "dx": 11}, "encoding": {"x": {"datum": 100}, "y": {"datum": 0.0559}}},
     {"data": {"values": [{}]}, "mark": {"type": "text", "text": "= 0.3482", "fontSize": 17, "align": "left", "baseline": "middle", "dx": 20}, "encoding": {"x": {"datum": 100}, "y": {"datum": 0.0559}}},
     {"data": {"values": [{}]}, "mark": {"type": "text", "text": "P", "fontStyle": "italic", "fontSize": 17, "align": "left", "baseline": "middle", "dx": 10}, "encoding": {"x": {"datum": 100}, "y": {"datum": 0.027}}},
     {"data": {"values": [{}]}, "mark": {"type": "text", "text": "= 0.0005", "fontSize": 17, "align": "left", "baseline": "middle", "dx": 29}, "encoding": {"x": {"datum": 100}, "y": {"datum": 0.027}}}
    ]
   }]
  }
 ]},
 {"spacing": 9, "vconcat": [
 {"spacing": 19, "hconcat": [
  {"title": {"text": "C", "anchor": "start", "frame": "bounds", "fontSize": 30, "fontWeight": "bold", "offset": -23, "dx": -8},
   "vconcat": [{
    "width": 286, "height": 190,
    "title": {"text": "Purfied IgG IC₅₀ ⁻¹ – plasma NT₅₀", "offset": 16},
    "layer": [
     {"data": {"name": "c"}, "mark": {"type": "circle", "size": 16, "color": "#000", "opacity": 1},
      "encoding": {
       "x": {"field": "x", "type": "quantitative", "scale": {"type": "log", "domain": [10, 11600], "nice": false}, "axis": {"title": "NT₅₀", "titlePadding": 8, "values": [10,20,30,40,50,60,70,80,90,100,200,300,400,500,600,700,800,900,1000,2000,3000,4000,5000,6000,7000,8000,9000,10000], "labelExpr": "abs(log(datum.value)/LN10-round(log(datum.value)/LN10))<0.01 ? '10'+(datum.value<1?'⁻':'')+['⁰','¹','²','³','⁴','⁵','⁶','⁷','⁸','⁹'][abs(round(log(datum.value)/LN10))] : ''", "tickSize": {"condition": {"test": "abs(log(datum.value)/LN10-round(log(datum.value)/LN10))<0.01", "value": 6}, "value": 3}}},
       "y": {"field": "y", "type": "quantitative", "scale": {"type": "log", "domain": [0.0001, 0.1], "nice": false}, "axis": {"title": "1/IgG IC₅₀ (nM)", "titlePadding": 14, "values": [0.0001,0.0002,0.0003,0.0004,0.0005,0.0006,0.0007,0.0008,0.0009,0.001,0.002,0.003,0.004,0.005,0.006,0.007,0.008,0.009,0.01,0.02,0.03,0.04,0.05,0.06,0.07,0.08,0.09,0.1], "labelExpr": "abs(log(datum.value)/LN10-round(log(datum.value)/LN10))<0.01 ? '10'+(datum.value<1?'⁻':'')+['⁰','¹','²','³','⁴','⁵','⁶','⁷','⁸','⁹'][abs(round(log(datum.value)/LN10))] : ''", "tickSize": {"condition": {"test": "abs(log(datum.value)/LN10-round(log(datum.value)/LN10))<0.01", "value": 6}, "value": 3}}}
      }},
     {"data": {"name": "tri"}, "transform": [{"filter": "datum.p == 'C'"}], "mark": {"type": "point", "shape": "triangle-down", "filled": true, "size": 140, "opacity": 1, "yOffset": -12},
      "encoding": {"x": {"field": "x", "type": "quantitative"}, "y": {"field": "y", "type": "quantitative"}, "color": {"field": "id", "type": "nominal", "scale": {"domain": ["21","47","96"], "range": ["#29A9E1","#EC2227","#1C9A4C"]}, "legend": null}}},
     {"data": {"values": [{}]}, "mark": {"type": "text", "text": "r", "fontStyle": "italic", "fontSize": 17, "align": "left", "baseline": "middle", "dx": 9}, "encoding": {"x": {"datum": 10}, "y": {"datum": 0.0748}}},
     {"data": {"values": [{}]}, "mark": {"type": "text", "text": "= 0.6768", "fontSize": 17, "align": "left", "baseline": "middle", "dx": 18}, "encoding": {"x": {"datum": 10}, "y": {"datum": 0.0748}}},
     {"data": {"values": [{}]}, "mark": {"type": "text", "text": "P", "fontStyle": "italic", "fontSize": 17, "align": "left", "baseline": "middle", "dx": 8}, "encoding": {"x": {"datum": 10}, "y": {"datum": 0.0389}}},
     {"data": {"values": [{}]}, "mark": {"type": "text", "text": "< 0.0001", "fontSize": 17, "align": "left", "baseline": "middle", "dx": 25.5}, "encoding": {"x": {"datum": 10}, "y": {"datum": 0.0389}}}
    ]
   }]
  },
  {"title": {"text": "D", "anchor": "start", "frame": "bounds", "fontSize": 30, "fontWeight": "bold", "offset": -23, "dx": -8},
   "vconcat": [{
    "width": 288, "height": 190,
    "title": {"text": "Purified IgA IC₅₀ ⁻¹ – plasma NT₅₀", "offset": 17},
    "layer": [
     {"data": {"name": "d"}, "mark": {"type": "circle", "size": 16, "color": "#000", "opacity": 1},
      "encoding": {
       "x": {"field": "x", "type": "quantitative", "scale": {"type": "log", "domain": [10, 12000], "nice": false}, "axis": {"title": "NT₅₀", "titlePadding": 8, "values": [10,20,30,40,50,60,70,80,90,100,200,300,400,500,600,700,800,900,1000,2000,3000,4000,5000,6000,7000,8000,9000,10000], "labelExpr": "abs(log(datum.value)/LN10-round(log(datum.value)/LN10))<0.01 ? '10'+(datum.value<1?'⁻':'')+['⁰','¹','²','³','⁴','⁵','⁶','⁷','⁸','⁹'][abs(round(log(datum.value)/LN10))] : ''", "tickSize": {"condition": {"test": "abs(log(datum.value)/LN10-round(log(datum.value)/LN10))<0.01", "value": 6}, "value": 3}}},
       "y": {"field": "y", "type": "quantitative", "scale": {"type": "log", "domain": [0.00001, 0.1], "nice": false}, "axis": {"title": "1/IgA IC₅₀ (nM)", "titlePadding": 25, "values": [0.00001,0.00002,0.00003,0.00004,0.00005,0.00006,0.00007,0.00008,0.00009,0.0001,0.0002,0.0003,0.0004,0.0005,0.0006,0.0007,0.0008,0.0009,0.001,0.002,0.003,0.004,0.005,0.006,0.007,0.008,0.009,0.01,0.02,0.03,0.04,0.05,0.06,0.07,0.08,0.09,0.1], "labelExpr": "abs(log(datum.value)/LN10-round(log(datum.value)/LN10))<0.01 ? '10'+(datum.value<1?'⁻':'')+['⁰','¹','²','³','⁴','⁵','⁶','⁷','⁸','⁹'][abs(round(log(datum.value)/LN10))] : ''", "tickSize": {"condition": {"test": "abs(log(datum.value)/LN10-round(log(datum.value)/LN10))<0.01", "value": 6}, "value": 3}}}
      }},
     {"data": {"name": "tri"}, "transform": [{"filter": "datum.p == 'D'"}], "mark": {"type": "point", "shape": "triangle-down", "filled": true, "size": 140, "opacity": 1, "yOffset": -10},
      "encoding": {"x": {"field": "x", "type": "quantitative"}, "y": {"field": "y", "type": "quantitative"}, "color": {"field": "id", "type": "nominal", "scale": {"domain": ["21","47","96"], "range": ["#29A9E1","#EC2227","#1C9A4C"]}, "legend": null}}},
     {"data": {"values": [{}]}, "mark": {"type": "text", "text": "r", "fontStyle": "italic", "fontSize": 17, "align": "left", "baseline": "middle", "dx": 11}, "encoding": {"x": {"datum": 10}, "y": {"datum": 0.0646}}},
     {"data": {"values": [{}]}, "mark": {"type": "text", "text": "= 0.4049", "fontSize": 17, "align": "left", "baseline": "middle", "dx": 20}, "encoding": {"x": {"datum": 10}, "y": {"datum": 0.0646}}},
     {"data": {"values": [{}]}, "mark": {"type": "text", "text": "P", "fontStyle": "italic", "fontSize": 17, "align": "left", "baseline": "middle", "dx": 10}, "encoding": {"x": {"datum": 10}, "y": {"datum": 0.027}}},
     {"data": {"values": [{}]}, "mark": {"type": "text", "text": "< 0.0001", "fontSize": 17, "align": "left", "baseline": "middle", "dx": 27.5}, "encoding": {"x": {"datum": 10}, "y": {"datum": 0.027}}}
    ]
   }]
  }
 ]},
 {"spacing": -1, "vconcat": [
 {"spacing": 8, "hconcat": [
  {"title": {"text": "E", "anchor": "start", "frame": "bounds", "fontSize": 30, "fontWeight": "bold", "offset": -12, "dx": -20},
   "vconcat": [{
    "width": 287, "height": 190,
    "title": {"text": "Purified IgG IC₅₀ – Purified IgA IC₅₀", "offset": 27},
    "layer": [
     {"data": {"name": "e"}, "mark": {"type": "circle", "size": 16, "color": "#000", "opacity": 1},
      "encoding": {
       "x": {"field": "x", "type": "quantitative", "scale": {"type": "log", "domain": [38.6, 10000], "nice": false}, "axis": {"title": "IgA IC₅₀ (nM)", "titlePadding": 18, "values": [40,50,60,70,80,90,100,200,300,400,500,600,700,800,900,1000,2000,3000,4000,5000,6000,7000,8000,9000,10000], "labelExpr": "abs(log(datum.value)/LN10-round(log(datum.value)/LN10))<0.01 ? '10'+(datum.value<1?'⁻':'')+['⁰','¹','²','³','⁴','⁵','⁶','⁷','⁸','⁹'][abs(round(log(datum.value)/LN10))] : ''", "tickSize": {"condition": {"test": "abs(log(datum.value)/LN10-round(log(datum.value)/LN10))<0.01", "value": 6}, "value": 3}}},
       "y": {"field": "y", "type": "quantitative", "scale": {"type": "log", "domain": [10, 10000], "nice": false}, "axis": {"title": "IgG IC₅₀ (nM)", "titlePadding": 1, "values": [10,20,30,40,50,60,70,80,90,100,200,300,400,500,600,700,800,900,1000,2000,3000,4000,5000,6000,7000,8000,9000,10000], "labelExpr": "abs(log(datum.value)/LN10-round(log(datum.value)/LN10))<0.01 ? '10'+(datum.value<1?'⁻':'')+['⁰','¹','²','³','⁴','⁵','⁶','⁷','⁸','⁹'][abs(round(log(datum.value)/LN10))] : ''", "tickSize": {"condition": {"test": "abs(log(datum.value)/LN10-round(log(datum.value)/LN10))<0.01", "value": 6}, "value": 3}}}
      }},
     {"data": {"name": "tri"}, "transform": [{"filter": "datum.p == 'E'"}], "mark": {"type": "point", "shape": "triangle-down", "filled": true, "size": 140, "opacity": 1, "yOffset": -12},
      "encoding": {"x": {"field": "x", "type": "quantitative"}, "y": {"field": "y", "type": "quantitative"}, "color": {"field": "id", "type": "nominal", "scale": {"domain": ["21","47","96"], "range": ["#29A9E1","#EC2227","#1C9A4C"]}, "legend": null}}},
     {"data": {"values": [{}]}, "mark": {"type": "text", "text": "r", "fontStyle": "italic", "fontSize": 17, "align": "left", "baseline": "middle", "dx": 6}, "encoding": {"x": {"datum": 38.6}, "y": {"datum": 7760}}},
     {"data": {"values": [{}]}, "mark": {"type": "text", "text": "= 0.4725", "fontSize": 17, "align": "left", "baseline": "middle", "dx": 15}, "encoding": {"x": {"datum": 38.6}, "y": {"datum": 7760}}},
     {"data": {"values": [{}]}, "mark": {"type": "text", "text": "P", "fontStyle": "italic", "fontSize": 17, "align": "left", "baseline": "middle", "dx": 5}, "encoding": {"x": {"datum": 38.6}, "y": {"datum": 3900}}},
     {"data": {"values": [{}]}, "mark": {"type": "text", "text": "< 0.0001", "fontSize": 17, "align": "left", "baseline": "middle", "dx": 22.5}, "encoding": {"x": {"datum": 38.6}, "y": {"datum": 3900}}}
    ]
   }]
  },
  {"title": {"text": "F", "anchor": "start", "frame": "bounds", "fontSize": 30, "fontWeight": "bold", "offset": 0, "dx": -28},
   "vconcat": [{
    "width": 285, "height": 190,
    "title": {"text": "Purified IgA / Purified IgG – IC₅₀", "offset": 15},
    "layer": [
     {"data": {"name": "f"}, "mark": {"type": "circle", "size": 16, "color": "#000", "opacity": 1},
      "encoding": {
       "x": {"field": "g", "type": "nominal", "scale": {"type": "band", "domain": ["IgA", "IgG"], "paddingInner": 0, "paddingOuter": 0.164}, "axis": {"title": null, "labelAngle": 0, "labelFontSize": 17, "labelPadding": 4}},
       "xOffset": {"field": "c", "type": "quantitative", "scale": {"domain": [-8.3, 8.3], "nice": false}},
       "y": {"field": "v", "type": "quantitative", "scale": {"type": "log", "domain": [10, 10000], "nice": false}, "axis": {"title": "IC₅₀ (nM)", "titlePadding": 7, "values": [10,20,30,40,50,60,70,80,90,100,200,300,400,500,600,700,800,900,1000,2000,3000,4000,5000,6000,7000,8000,9000,10000], "labelExpr": "abs(log(datum.value)/LN10-round(log(datum.value)/LN10))<0.01 ? '10'+(datum.value<1?'⁻':'')+['⁰','¹','²','³','⁴','⁵','⁶','⁷','⁸','⁹'][abs(round(log(datum.value)/LN10))] : ''", "tickSize": {"condition": {"test": "abs(log(datum.value)/LN10-round(log(datum.value)/LN10))<0.01", "value": 6}, "value": 3}}}
      }},
     {"data": {"name": "med"}, "transform": [{"filter": "datum.p == 'F'"}], "mark": {"type": "tick", "color": "#EC2227", "thickness": 2, "size": 80},
      "encoding": {"x": {"field": "g", "type": "nominal"}, "y": {"field": "v", "type": "quantitative"}}},
     {"data": {"name": "trisw"}, "transform": [{"filter": "datum.p == 'F' && !(datum.g == 'IgG' && datum.id == '21')"}], "mark": {"type": "point", "shape": "triangle-down", "filled": true, "size": 140, "opacity": 1},
      "encoding": {"x": {"field": "g", "type": "nominal"}, "xOffset": {"field": "c", "type": "quantitative"}, "y": {"field": "v", "type": "quantitative"}, "color": {"field": "id", "type": "nominal", "scale": {"domain": ["21","47","96"], "range": ["#29A9E1","#EC2227","#1C9A4C"]}, "legend": null}}},
     {"data": {"name": "trisw"}, "transform": [{"filter": "datum.p == 'F' && datum.g == 'IgG' && datum.id == '21'"}], "mark": {"type": "point", "shape": "triangle-down", "filled": true, "size": 140, "opacity": 1, "angle": 60},
      "encoding": {"x": {"field": "g", "type": "nominal"}, "xOffset": {"field": "c", "type": "quantitative"}, "y": {"field": "v", "type": "quantitative"}, "color": {"field": "id", "type": "nominal", "legend": null}}},
     {"data": {"values": [{"g": "IgA"}, {"g": "IgG"}]}, "mark": {"type": "line", "color": "#000", "strokeWidth": 2, "clip": false},
      "encoding": {"x": {"field": "g", "type": "nominal"}, "y": {"datum": 10000}}},
     {"data": {"values": [{}]}, "mark": {"type": "text", "text": "P", "fontStyle": "italic", "fontSize": 17, "align": "left", "baseline": "alphabetic", "dx": 19, "dy": -5}, "encoding": {"x": {"datum": "IgA"}, "y": {"datum": 10000}}},
     {"data": {"values": [{}]}, "mark": {"type": "text", "text": "< 0.0001", "fontSize": 17, "align": "left", "baseline": "alphabetic", "dx": 35.5, "dy": -5}, "encoding": {"x": {"datum": "IgA"}, "y": {"datum": 10000}}}
    ]
   }]
  }
 ]},
 {"spacing": 13, "hconcat": [
  {"title": {"text": "G", "anchor": "start", "frame": "bounds", "fontSize": 30, "fontWeight": "bold", "offset": 14, "dx": -15},
   "vconcat": [{
    "width": 286, "height": 190,
    "title": {"text": "Purified IgG IC₅₀ ⁻¹ – Sx severity", "offset": 25},
    "layer": [
     {"data": {"name": "g"}, "mark": {"type": "circle", "size": 16, "color": "#000", "opacity": 1},
      "encoding": {
       "x": {"field": "x", "type": "quantitative", "scale": {"domain": [0, 10], "nice": false}, "axis": {"title": "Sx severity", "titlePadding": 9, "values": [0, 5, 10]}},
       "y": {"field": "y", "type": "quantitative", "scale": {"type": "log", "domain": [0.0001, 0.1], "nice": false}, "axis": {"title": "1/IC₅₀ IgG", "titlePadding": 8, "values": [0.0001,0.0002,0.0003,0.0004,0.0005,0.0006,0.0007,0.0008,0.0009,0.001,0.002,0.003,0.004,0.005,0.006,0.007,0.008,0.009,0.01,0.02,0.03,0.04,0.05,0.06,0.07,0.08,0.09,0.1], "labelExpr": "abs(log(datum.value)/LN10-round(log(datum.value)/LN10))<0.01 ? '10'+(datum.value<1?'⁻':'')+['⁰','¹','²','³','⁴','⁵','⁶','⁷','⁸','⁹'][abs(round(log(datum.value)/LN10))] : ''", "tickSize": {"condition": {"test": "abs(log(datum.value)/LN10-round(log(datum.value)/LN10))<0.01", "value": 6}, "value": 3}}}
      }},
     {"data": {"name": "tri"}, "transform": [{"filter": "datum.p == 'G'"}], "mark": {"type": "point", "shape": "triangle-down", "filled": true, "size": 140, "opacity": 1, "yOffset": -9},
      "encoding": {"x": {"field": "x", "type": "quantitative"}, "y": {"field": "y", "type": "quantitative"}, "color": {"field": "id", "type": "nominal", "scale": {"domain": ["21","47","96"], "range": ["#29A9E1","#EC2227","#1C9A4C"]}, "legend": null}}},
     {"data": {"values": [{}]}, "mark": {"type": "text", "text": "r", "fontStyle": "italic", "fontSize": 17, "align": "left", "baseline": "middle", "dx": 9}, "encoding": {"x": {"datum": 0}, "y": {"datum": 0.0804}}},
     {"data": {"values": [{}]}, "mark": {"type": "text", "text": "= 0.3611", "fontSize": 17, "align": "left", "baseline": "middle", "dx": 18}, "encoding": {"x": {"datum": 0}, "y": {"datum": 0.0804}}},
     {"data": {"values": [{}]}, "mark": {"type": "text", "text": "P", "fontStyle": "italic", "fontSize": 17, "align": "left", "baseline": "middle", "dx": 8}, "encoding": {"x": {"datum": 0}, "y": {"datum": 0.0403}}},
     {"data": {"values": [{}]}, "mark": {"type": "text", "text": "= 0.0002", "fontSize": 17, "align": "left", "baseline": "middle", "dx": 25.5}, "encoding": {"x": {"datum": 0}, "y": {"datum": 0.0403}}}
    ]
   }]
  },
  {"title": {"text": "H", "anchor": "start", "frame": "bounds", "fontSize": 30, "fontWeight": "bold", "offset": 10, "dx": -25},
   "vconcat": [{
    "width": 287, "height": 190,
    "title": {"text": "no-GI-Sx/GI-Sx – Purified IgA IC₅₀", "offset": 11},
    "layer": [
     {"data": {"name": "h"}, "mark": {"type": "circle", "size": 16, "color": "#000", "opacity": 1},
      "encoding": {
       "x": {"field": "g", "type": "nominal", "scale": {"type": "band", "domain": ["no-GI-Sx", "GI-Sx"], "paddingInner": 0, "paddingOuter": 0.17}, "axis": {"title": null, "labelAngle": 0, "labelFontSize": 17, "labelPadding": 4}},
       "xOffset": {"field": "c", "type": "quantitative", "scale": {"domain": [-8, 8], "nice": false}},
       "y": {"field": "v", "type": "quantitative", "scale": {"type": "log", "domain": [10, 10000], "nice": false}, "axis": {"title": "IC₅₀ IgA", "titlePadding": 10, "values": [10,20,30,40,50,60,70,80,90,100,200,300,400,500,600,700,800,900,1000,2000,3000,4000,5000,6000,7000,8000,9000,10000], "labelExpr": "abs(log(datum.value)/LN10-round(log(datum.value)/LN10))<0.01 ? '10'+(datum.value<1?'⁻':'')+['⁰','¹','²','³','⁴','⁵','⁶','⁷','⁸','⁹'][abs(round(log(datum.value)/LN10))] : ''", "tickSize": {"condition": {"test": "abs(log(datum.value)/LN10-round(log(datum.value)/LN10))<0.01", "value": 6}, "value": 3}}}
      }},
     {"data": {"name": "med"}, "transform": [{"filter": "datum.p == 'H'"}], "mark": {"type": "tick", "color": "#EC2227", "thickness": 2, "size": 80},
      "encoding": {"x": {"field": "g", "type": "nominal"}, "y": {"field": "v", "type": "quantitative"}}},
     {"data": {"name": "trisw"}, "transform": [{"filter": "datum.p == 'H' && datum.id != '21'"}], "mark": {"type": "point", "shape": "triangle-down", "filled": true, "size": 140, "opacity": 1},
      "encoding": {"x": {"field": "g", "type": "nominal"}, "xOffset": {"field": "c", "type": "quantitative"}, "y": {"field": "v", "type": "quantitative"}, "color": {"field": "id", "type": "nominal", "scale": {"domain": ["21","47","96"], "range": ["#29A9E1","#EC2227","#1C9A4C"]}, "legend": null}}},
     {"data": {"name": "trisw"}, "transform": [{"filter": "datum.p == 'H' && datum.id == '21'"}], "mark": {"type": "point", "shape": "triangle-down", "filled": true, "size": 140, "opacity": 1, "angle": 20},
      "encoding": {"x": {"field": "g", "type": "nominal"}, "xOffset": {"field": "c", "type": "quantitative"}, "y": {"field": "v", "type": "quantitative"}, "color": {"field": "id", "type": "nominal", "legend": null}}},
     {"data": {"values": [{"g": "no-GI-Sx"}, {"g": "GI-Sx"}]}, "mark": {"type": "line", "color": "#000", "strokeWidth": 2, "clip": false},
      "encoding": {"x": {"field": "g", "type": "nominal"}, "y": {"datum": 10000}}},
     {"data": {"values": [{}]}, "mark": {"type": "text", "text": "P", "fontStyle": "italic", "fontSize": 17, "align": "left", "baseline": "alphabetic", "dx": 14, "dy": -5}, "encoding": {"x": {"datum": "no-GI-Sx"}, "y": {"datum": 10000}}},
     {"data": {"values": [{}]}, "mark": {"type": "text", "text": "= 0.0356", "fontSize": 17, "align": "left", "baseline": "alphabetic", "dx": 30.5, "dy": -5}, "encoding": {"x": {"datum": "no-GI-Sx"}, "y": {"datum": 10000}}}
    ]
   }]
  }
 ]}
 ]}
 ]}
]
}
